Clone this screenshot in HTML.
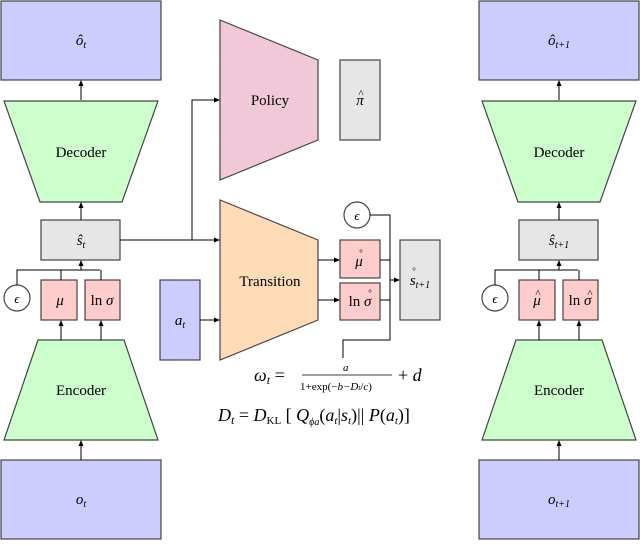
<!DOCTYPE html><html><head><style>body{margin:0;background:#fff}</style></head><body>
<svg width="640" height="540" viewBox="0 0 640 540" xmlns="http://www.w3.org/2000/svg" font-family="'Liberation Serif', serif">
<defs><marker id="a" markerWidth="6" markerHeight="6" refX="5" refY="3" orient="auto"><path d="M0,0.5 L6,3 L0,5.5 z" fill="#000"/></marker></defs>
<g stroke="#444" stroke-width="1.2">
<rect x="1" y="1" width="160" height="79" fill="#ccccff"/>
<polygon points="4,101 158,101 122,202 40,202" fill="#ccffcc"/>
<rect x="41" y="220" width="79" height="40" fill="#e6e6e6"/>
<circle cx="17" cy="298" r="13" fill="#fff"/>
<rect x="41" y="280" width="36" height="40" fill="#ffcccc"/>
<rect x="85" y="280" width="35" height="40" fill="#ffcccc"/>
<polygon points="38,340 124,340 158,440 4,440" fill="#ccffcc"/>
<rect x="1" y="460" width="160" height="79" fill="#ccccff"/>
<rect x="479" y="1" width="160" height="79" fill="#ccccff"/>
<polygon points="482,101 636,101 600,202 518,202" fill="#ccffcc"/>
<rect x="519" y="220" width="79" height="40" fill="#e6e6e6"/>
<circle cx="495" cy="298" r="13" fill="#fff"/>
<rect x="519" y="280" width="36" height="40" fill="#ffcccc"/>
<rect x="563" y="280" width="35" height="40" fill="#ffcccc"/>
<polygon points="516,340 602,340 636,440 482,440" fill="#ccffcc"/>
<rect x="479" y="460" width="160" height="79" fill="#ccccff"/>
<polygon points="220,20 318,60 318,140 220,180" fill="#f0c8d8"/>
<rect x="340" y="60" width="40" height="80" fill="#e6e6e6"/>
<polygon points="220,200 318,240 318,320 220,360" fill="#ffdcb8"/>
<rect x="160" y="280" width="40" height="80" fill="#ccccff"/>
<rect x="340" y="240" width="40" height="38" fill="#ffcccc"/>
<rect x="340" y="283" width="40" height="37" fill="#ffcccc"/>
<rect x="400" y="240" width="40" height="80" fill="#e6e6e6"/>
<circle cx="357" cy="215" r="13" fill="#fff"/>
</g>
<g stroke="#000" stroke-width="1" fill="none">
<line x1="81" y1="100" x2="81" y2="81" marker-end="url(#a)"/>
<line x1="81" y1="220" x2="81" y2="203" marker-end="url(#a)"/>
<polyline points="17,285 17,270 100,270"/>
<line x1="61" y1="280" x2="61" y2="270"/><line x1="101" y1="280" x2="101" y2="270"/>
<line x1="81" y1="270" x2="81" y2="261" marker-end="url(#a)"/>
<line x1="61" y1="340" x2="61" y2="321" marker-end="url(#a)"/>
<line x1="101" y1="340" x2="101" y2="321" marker-end="url(#a)"/>
<line x1="81" y1="460" x2="81" y2="441" marker-end="url(#a)"/>
<line x1="559" y1="100" x2="559" y2="81" marker-end="url(#a)"/>
<line x1="559" y1="220" x2="559" y2="203" marker-end="url(#a)"/>
<polyline points="495,285 495,270 578,270"/>
<line x1="539" y1="280" x2="539" y2="270"/><line x1="579" y1="280" x2="579" y2="270"/>
<line x1="559" y1="270" x2="559" y2="261" marker-end="url(#a)"/>
<line x1="539" y1="340" x2="539" y2="321" marker-end="url(#a)"/>
<line x1="579" y1="340" x2="579" y2="321" marker-end="url(#a)"/>
<line x1="559" y1="460" x2="559" y2="441" marker-end="url(#a)"/>
<line x1="120" y1="240" x2="219" y2="240" marker-end="url(#a)"/>
<polyline points="192,240 192,100 219,100" marker-end="url(#a)"/>
<line x1="200" y1="320" x2="219" y2="320" marker-end="url(#a)"/>
<line x1="318" y1="260" x2="339" y2="260" marker-end="url(#a)"/>
<line x1="318" y1="300" x2="339" y2="300" marker-end="url(#a)"/>
<polyline points="370,215 390,215 390,340 343,340 343,358"/>
<line x1="380" y1="260" x2="390" y2="260"/><line x1="380" y1="300" x2="390" y2="300"/>
<line x1="390" y1="280" x2="399" y2="280" marker-end="url(#a)"/>
</g>
<g font-size="15" text-anchor="middle" fill="#000">
<text x="81" y="45" font-style="italic">ô<tspan font-size="10" dy="3">t</tspan></text>
<text x="81" y="157">Decoder</text>
<text x="81" y="245" font-style="italic">ŝ<tspan font-size="10" dy="3">t</tspan></text>
<text x="17" y="303" font-style="italic" font-size="13">ϵ</text>
<text x="60" y="305" font-style="italic">μ</text>
<text x="102" y="305">ln <tspan font-style="italic">σ</tspan></text>
<text x="81" y="395">Encoder</text>
<text x="81" y="504" font-style="italic">o<tspan font-size="10" dy="3">t</tspan></text>
<text x="559" y="45" font-style="italic">ô<tspan font-size="10" dy="3">t+1</tspan></text>
<text x="559" y="157">Decoder</text>
<text x="559" y="245" font-style="italic">ŝ<tspan font-size="10" dy="3">t+1</tspan></text>
<text x="495" y="303" font-style="italic" font-size="13">ϵ</text>
<text x="537" y="305" font-style="italic">μ</text><text x="538" y="297" font-size="11">^</text>
<text x="580" y="305">ln <tspan font-style="italic">σ</tspan></text><text x="590" y="297" font-size="11">^</text>
<text x="559" y="395">Encoder</text>
<text x="559" y="504" font-style="italic">o<tspan font-size="10" dy="3">t+1</tspan></text>
<text x="270" y="105">Policy</text>
<text x="360" y="105" font-style="italic">π</text><text x="361" y="97" font-size="11">^</text>
<text x="270" y="286">Transition</text>
<text x="180" y="325" font-style="italic">a<tspan font-size="10" dy="3">t</tspan></text>
<text x="357" y="220" font-style="italic" font-size="13">ϵ</text>
<text x="359" y="266" font-style="italic">μ</text><text x="361" y="256" font-size="9">°</text>
<text x="360" y="306">ln <tspan font-style="italic">σ</tspan></text><text x="370" y="296" font-size="9">°</text>
<text x="420" y="285" font-style="italic">s<tspan font-size="10" dy="3">t+1</tspan></text><text x="414" y="274" font-size="9">°</text>
</g>
<g font-size="18" fill="#000">
<text x="254" y="381" font-style="italic">ω<tspan font-size="12" dy="3">t</tspan><tspan dy="-3" font-style="normal"> =</tspan></text>
<line x1="302" y1="375" x2="392" y2="375" stroke="#000" stroke-width="0.8"/>
<text x="343" y="371" font-size="11" font-style="italic">a</text>
<text x="300" y="390" font-size="11">1+exp(−<tspan font-style="italic">b−D</tspan><tspan font-size="7" font-style="italic">t</tspan>/<tspan font-style="italic">c</tspan>)</text>
<text x="398" y="381">+ <tspan font-style="italic">d</tspan></text>
<text x="218" y="421"><tspan font-style="italic">D</tspan><tspan font-size="12" dy="3" font-style="italic">t</tspan><tspan dy="-3"> = </tspan><tspan font-style="italic">D</tspan><tspan font-size="11" dy="3">KL</tspan><tspan dy="-3"> [ </tspan><tspan font-style="italic">Q</tspan><tspan font-size="10" dy="4" font-style="italic">ϕa</tspan><tspan dy="-4">(</tspan><tspan font-style="italic">a</tspan><tspan font-size="11" dy="3" font-style="italic">t</tspan><tspan dy="-3">|</tspan><tspan font-style="italic">s</tspan><tspan font-size="11" dy="3" font-style="italic">t</tspan><tspan dy="-3">)|| </tspan><tspan font-style="italic">P</tspan>(<tspan font-style="italic">a</tspan><tspan font-size="11" dy="3" font-style="italic">t</tspan><tspan dy="-3">)]</tspan></text>
</g>
</svg></body></html>
